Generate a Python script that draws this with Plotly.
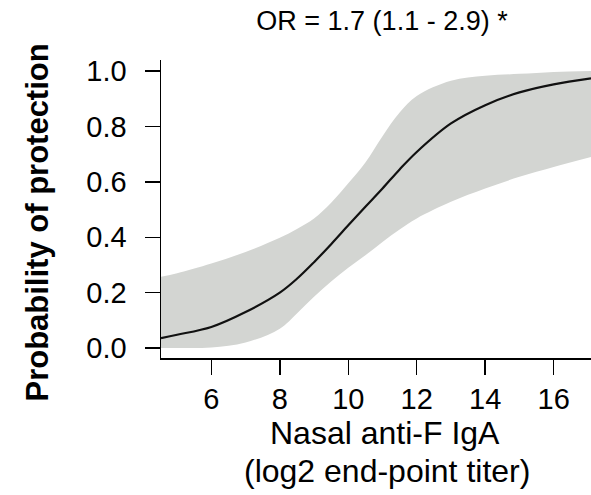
import plotly.graph_objects as go

# Values
titer = [4.53, 5, 6, 7, 8, 8.5, 9, 9.5, 10, 10.5, 11, 11.5, 12, 13, 14, 15, 16, 17.09]
prob_fit = [0.036, 0.048, 0.076, 0.13, 0.20, 0.25, 0.31, 0.375, 0.443, 0.51, 0.576, 0.645,
            0.708, 0.811, 0.877, 0.923, 0.952, 0.974]
prob_upper = [0.257, 0.27, 0.305, 0.347, 0.398, 0.43, 0.468, 0.525, 0.595, 0.67, 0.765, 0.85,
              0.91, 0.965, 0.983, 0.99, 0.997, 1.0]
prob_lower = [0.0, 0.0, 0.002, 0.02, 0.07, 0.125, 0.185, 0.24, 0.29, 0.335, 0.383, 0.428,
              0.468, 0.528, 0.576, 0.618, 0.654, 0.69]

x_ticks = [6, 8, 10, 12, 14, 16]
y_ticks = [0.0, 0.2, 0.4, 0.6, 0.8, 1.0]
y_tick_text = ["0.0", "0.2", "0.4", "0.6", "0.8", "1.0"]

title_text = "OR = 1.7 (1.1 - 2.9) *"
x_title_1 = "Nasal anti-F IgA"
x_title_2 = "(log2 end-point titer)"
y_title = "<b>Probability of protection</b>"

FONT = "Liberation Sans, Arial, Helvetica, sans-serif"
W, H = 591, 495
L, T, B, R = 160.7, 60, 137.3, 0

fig = go.Figure()
fig.add_trace(go.Scatter(x=titer, y=prob_lower, mode="lines",
                         line=dict(width=0, color="rgba(0,0,0,0)", shape="spline"),
                         hoverinfo="skip", showlegend=False))
fig.add_trace(go.Scatter(x=titer, y=prob_upper, mode="lines", fill="tonexty",
                         fillcolor="#d3d5d2",
                         line=dict(width=0, color="rgba(0,0,0,0)", shape="spline"),
                         hoverinfo="skip", showlegend=False))
fig.add_trace(go.Scatter(x=titer, y=prob_fit, mode="lines",
                         line=dict(width=2.2, color="#111111", shape="spline"),
                         showlegend=False))

plot_h = H - T - B
plot_w = W - L - R

def py_to_paper(py):
    return (H - B - py) / plot_h

def px_to_paper(px):
    return (px - L) / plot_w

fig.update_layout(
    template="none",
    width=W, height=H,
    margin=dict(l=L, r=R, t=T, b=B, pad=0, autoexpand=False),
    paper_bgcolor="white", plot_bgcolor="white",
    font=dict(family=FONT, color="#000000"),
    title=dict(text=title_text, x=382 / W, xanchor="center", y=1 - 21 / H, yanchor="middle",
               font=dict(size=27, family=FONT, color="#000000")),
    xaxis=dict(range=[4.53, 17.09], tickvals=x_ticks, ticks="outside", ticklen=15,
               tickwidth=1.5, tickcolor="#000000", showline=True, linecolor="#000000",
               linewidth=1.5, showgrid=False, zeroline=False, automargin=False,
               tickfont=dict(size=29, family=FONT, color="#000000"),
               ticklabelstandoff=0),
    yaxis=dict(range=[-0.036, 1.04], tickvals=y_ticks, ticktext=y_tick_text, ticks="outside",
               ticklen=15, tickwidth=1.5, tickcolor="#000000", showline=True,
               linecolor="#000000", linewidth=1.5, showgrid=False, zeroline=False,
               automargin=False,
               tickfont=dict(size=29, family=FONT, color="#000000"),
               ticklabelstandoff=12),
    annotations=[
        dict(text=x_title_1, xref="paper", yref="paper", x=px_to_paper(385), y=py_to_paper(433),
             xanchor="center", yanchor="middle", showarrow=False,
             font=dict(size=32, family=FONT, color="#000000")),
        dict(text=x_title_2, xref="paper", yref="paper", x=px_to_paper(387), y=py_to_paper(471),
             xanchor="center", yanchor="middle", showarrow=False,
             font=dict(size=32, family=FONT, color="#000000")),
        dict(text=y_title, xref="paper", yref="paper", x=px_to_paper(37), y=py_to_paper(222),
             xanchor="center", yanchor="middle", textangle=-90, showarrow=False,
             font=dict(size=31, family=FONT, color="#000000")),
    ],
)

fig.write_html("out.html",
               config={"displayModeBar": False, "staticPlot": True},
               post_script="document.body.style.margin='0';document.body.style.overflow='hidden';")
